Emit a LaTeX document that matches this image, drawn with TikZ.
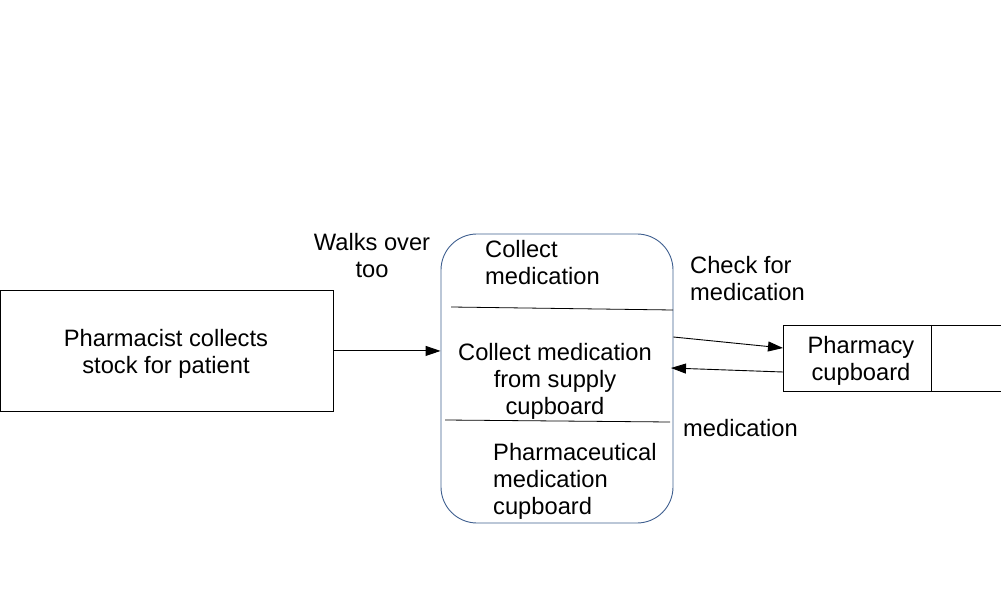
\documentclass[tikz,border=0pt]{standalone}
\usepackage{fontspec}
\setmainfont{Liberation Sans}
\usetikzlibrary{arrows.meta}
\definecolor{procblue}{HTML}{3F5F8F}
\begin{document}
\begin{tikzpicture}[x=1pt,y=-1pt,
  lbl/.style={font=\fontsize{23.7}{27}\selectfont, inner sep=0pt},
  boxed/.style={draw=black, line width=0.9pt, inner sep=0pt},
  divider/.style={draw=black, line width=0.8pt},
  flow/.style={draw=black, line width=0.9pt, -{Triangle[length=15pt,width=10pt]}},
]
\useasboundingbox (0,0) rectangle (1001,601);
% external entity
\node[boxed, minimum width=333pt, minimum height=121pt, anchor=north west] (ext) at (0,290) {};
\node[lbl, align=center] (extlbl) at (166,353.5) {Pharmacist collects\\stock for patient};
% process
\node[draw=procblue, line width=0.9pt, rounded corners=36pt, minimum width=232pt, minimum height=289pt, inner sep=0pt] (proc) at (557,378.5) {};
\draw[divider] (451,307) -- (673,310);
\draw[divider] (445,420) -- (670,422);
\node[lbl, align=left, anchor=west] (ptop) at (485,263) {Collect\\medication};
\node[lbl, align=center] (pmid) at (555,381.5) {Collect medication\\from supply\\cupboard};
\node[lbl, align=left, anchor=west] (pbot) at (493,481) {Pharmaceutical\\medication\\cupboard};
% data store
\node[boxed, minimum width=222pt, minimum height=66pt, anchor=north west] (store) at (783,325) {};
\draw[divider] (931,325) -- (931,391);
\node[lbl, align=center] (storelbl) at (861,361) {Pharmacy\\cupboard};
% flows
\draw[flow] (ext.east) -- (ext.east -| proc.west);
\draw[flow] (proc.east |- 0,337) -- (store.west |- 0,348);
\draw[flow] (store.west |- 0,372) -- (671,368);
% flow labels
\node[lbl, align=center] (walks) at (372,255.5) {Walks over\\too};
\node[lbl, align=left, anchor=west] (check) at (690,278.5) {Check for\\medication};
\node[lbl, anchor=west] (medlbl) at (683,428.5) {medication};
\end{tikzpicture}
\end{document}
